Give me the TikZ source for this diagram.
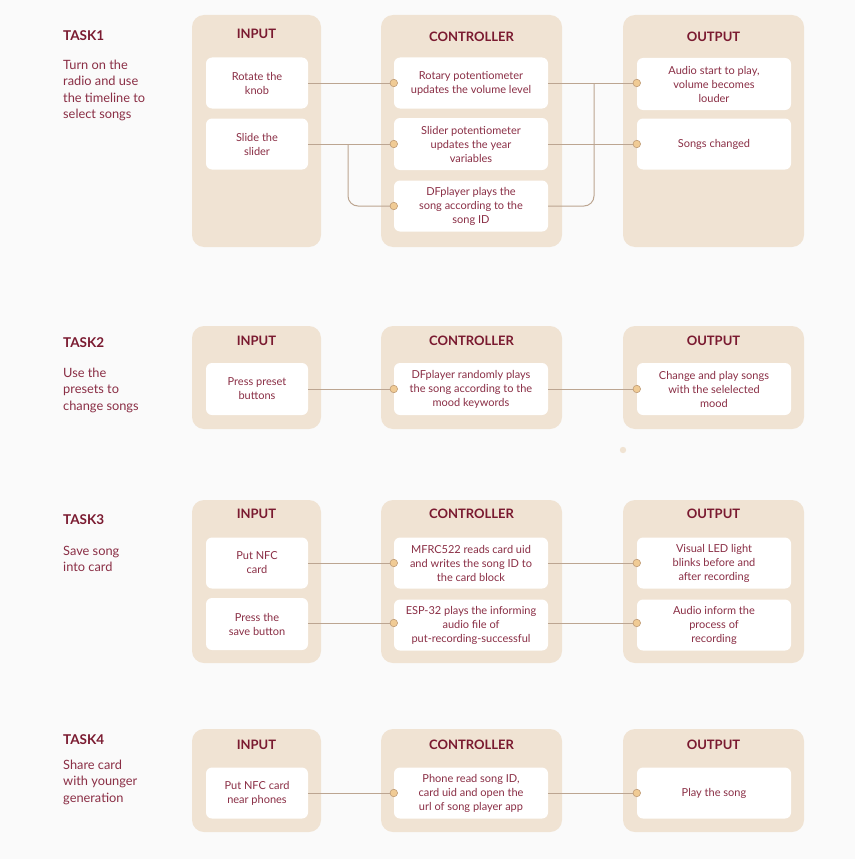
\documentclass[tikz,border=0pt]{standalone}
\usepackage{fontspec}
\setmainfont{Lato}
\usepackage{tikz}

\definecolor{bgcol}{HTML}{FAFAFA}
\definecolor{panelcol}{HTML}{F0E3D3}
\definecolor{headcol}{HTML}{7A1A30}
\definecolor{txtcol}{HTML}{8A2E45}
\definecolor{linecol}{HTML}{BCA591}
\definecolor{dotfill}{HTML}{F0CB95}
\definecolor{dotdraw}{HTML}{C09C76}

\tikzset{
  panel/.style={shape=rectangle, fill=panelcol, rounded corners=12pt, inner sep=0pt},
  box/.style={shape=rectangle, fill=white, rounded corners=6pt, inner sep=0pt, align=center,
    text=txtcol, font=\fontsize{11}{14}\selectfont},
  head/.style={text=headcol, font=\fontsize{13}{15}\selectfont\bfseries},
  task/.style={text=headcol, font=\fontsize{13.5}{16}\selectfont\bfseries, anchor=west, inner sep=0pt},
  desc/.style={text=txtcol, font=\fontsize{12.8}{16.3}\selectfont, anchor=north west, align=left, inner sep=0pt},
  link/.style={draw=linecol, line width=1pt},
  dot/.style={shape=circle, fill=dotfill, draw=dotdraw, line width=0.6pt, minimum size=7.5pt, inner sep=0pt},
}

\begin{document}
\begin{tikzpicture}[x=1pt,y=-1pt]

	\fill[bgcol] (0,0) rectangle (855,859);
	\useasboundingbox (0,0) rectangle (855,859);

	% TASK1
	\node[task] (k1) at (63,36) {TASK1};
	\node[desc] (k1d) at (63,60) {Turn on the\\radio and use\\the timeline to\\select songs};

	\node[panel, minimum width=129pt, minimum height=232pt] (p1i) at (256.5,131) {};
	\node[panel, minimum width=181pt, minimum height=232pt] (p1c) at (471.5,131) {};
	\node[panel, minimum width=181pt, minimum height=232pt] (p1o) at (713.5,131) {};
	\node[head] (h1i) at (256.5,34) {INPUT};
	\node[head] (h1c) at (471.5,37) {CONTROLLER};
	\node[head] (h1o) at (713.5,37) {OUTPUT};

	\node[box, minimum width=102pt, minimum height=51pt] (a1) at (257,83) {Rotate the\\knob};
	\node[box, minimum width=102pt, minimum height=51pt] (a2) at (257,144) {Slide the\\slider};
	\node[box, minimum width=154pt, minimum height=51pt] (b1) at (471,83) {Rotary potentiometer\\updates the volume level};
	\node[box, minimum width=154pt, minimum height=52pt] (b2) at (471,144) {Slider potentiometer\\updates the year\\variables};
	\node[box, minimum width=154pt, minimum height=51pt] (b3) at (471,206) {DFplayer plays the\\song according to the\\song ID};
	\node[box, minimum width=154pt, minimum height=52pt] (c1) at (714,84) {Audio start to play,\\volume becomes\\louder};
	\node[box, minimum width=154pt, minimum height=51pt] (c2) at (714,144) {Songs changed};

	\coordinate (j1) at (348,144);
	\coordinate (j2) at (594,83);
	\path[link] (a1.east) edge (b1.west);
	\path[link] (a2.east) edge (b2.west);
	\draw[link, rounded corners=10pt] (j1) |- (b3.west);
	\path[link] (b1.east) edge (c1.west |- b1.east);
	\path[link] (b2.east) edge (c2.west);
	\draw[link, rounded corners=10pt] (b3.east) -| (j2);
	\node[dot] (d11) at (b1.west) {};
	\node[dot] (d12) at (b2.west) {};
	\node[dot] (d13) at (b3.west) {};
	\node[dot] (d14) at (c1.west |- b1.east) {};
	\node[dot] (d15) at (c2.west) {};

	% TASK2
	\node[task] (k2) at (63,343) {TASK2};
	\node[desc] (k2d) at (63,368) {Use the\\presets to\\change songs};

	\node[panel, minimum width=129pt, minimum height=103pt] (p2i) at (256.5,377.5) {};
	\node[panel, minimum width=181pt, minimum height=103pt] (p2c) at (471.5,377.5) {};
	\node[panel, minimum width=181pt, minimum height=103pt] (p2o) at (713.5,377.5) {};
	\node[head] (h2i) at (256.5,341) {INPUT};
	\node[head] (h2c) at (471.5,341) {CONTROLLER};
	\node[head] (h2o) at (713.5,341) {OUTPUT};

	\node[box, minimum width=102pt, minimum height=52pt] (a4) at (257,389) {Press preset\\buttons};
	\node[box, minimum width=154pt, minimum height=52pt] (b4) at (471,389) {DFplayer randomly plays\\the song according to the\\mood keywords};
	\node[box, minimum width=154pt, minimum height=52pt] (c4) at (714,389) {Change and play songs\\with the selelected\\mood};

	\path[link] (a4.east) edge (b4.west);
	\path[link] (b4.east) edge (c4.west);
	\node[dot] (d21) at (b4.west) {};
	\node[dot] (d22) at (c4.west) {};

	\fill[panelcol] (623,450) circle (3.2pt);

	% TASK3
	\node[task] (k3) at (63,520) {TASK3};
	\node[desc] (k3d) at (63,546) {Save song\\into card};

	\node[panel, minimum width=129pt, minimum height=163pt] (p3i) at (256.5,581.5) {};
	\node[panel, minimum width=181pt, minimum height=163pt] (p3c) at (471.5,581.5) {};
	\node[panel, minimum width=181pt, minimum height=163pt] (p3o) at (713.5,581.5) {};
	\node[head] (h3i) at (256.5,514) {INPUT};
	\node[head] (h3c) at (471.5,514) {CONTROLLER};
	\node[head] (h3o) at (713.5,514) {OUTPUT};

	\node[box, minimum width=102pt, minimum height=51pt] (a5) at (257,563) {Put NFC\\card};
	\node[box, minimum width=102pt, minimum height=52pt] (a6) at (257,624) {Press the\\save button};
	\node[box, minimum width=154pt, minimum height=51pt] (b5) at (471,563) {MFRC522 reads card uid\\and writes the song ID to\\the card block};
	\node[box, minimum width=154pt, minimum height=51pt] (b6) at (471,625) {ESP-32 plays the informing\\audio file of\\put-recording-successful};
	\node[box, minimum width=154pt, minimum height=51pt] (c5) at (714,563) {Visual LED light\\blinks before and\\after recording};
	\node[box, minimum width=154pt, minimum height=51pt] (c6) at (714,625) {Audio inform the\\process of\\recording};

	\path[link] (a5.east) edge (b5.west);
	\path[link] (a6.east |- 0,623) edge (b6.west |- 0,623);
	\path[link] (b5.east) edge (c5.west);
	\path[link] (b6.east |- 0,623) edge (c6.west |- 0,623);
	\node[dot] (d31) at (b5.west) {};
	\node[dot] (d32) at (b6.west |- 0,623) {};
	\node[dot] (d33) at (c5.west) {};
	\node[dot] (d34) at (c6.west |- 0,623) {};

	% TASK4
	\node[task] (k4) at (63,740) {TASK4};
	\node[desc] (k4d) at (63,760) {Share card\\with younger\\generation};

	\node[panel, minimum width=129pt, minimum height=103pt] (p4i) at (256.5,780.5) {};
	\node[panel, minimum width=181pt, minimum height=103pt] (p4c) at (471.5,780.5) {};
	\node[panel, minimum width=181pt, minimum height=103pt] (p4o) at (713.5,780.5) {};
	\node[head] (h4i) at (256.5,745) {INPUT};
	\node[head] (h4c) at (471.5,745) {CONTROLLER};
	\node[head] (h4o) at (713.5,745) {OUTPUT};

	\node[box, minimum width=102pt, minimum height=51pt] (a7) at (257,793) {Put NFC card\\near phones};
	\node[box, minimum width=154pt, minimum height=51pt] (b7) at (471,793) {Phone read song ID,\\card uid and open the\\url of song player app};
	\node[box, minimum width=154pt, minimum height=51pt] (c7) at (714,793) {Play the song};

	\path[link] (a7.east) edge (b7.west);
	\path[link] (b7.east) edge (c7.west);
	\node[dot] (d41) at (b7.west) {};
	\node[dot] (d42) at (c7.west) {};

\end{tikzpicture}
\end{document}
